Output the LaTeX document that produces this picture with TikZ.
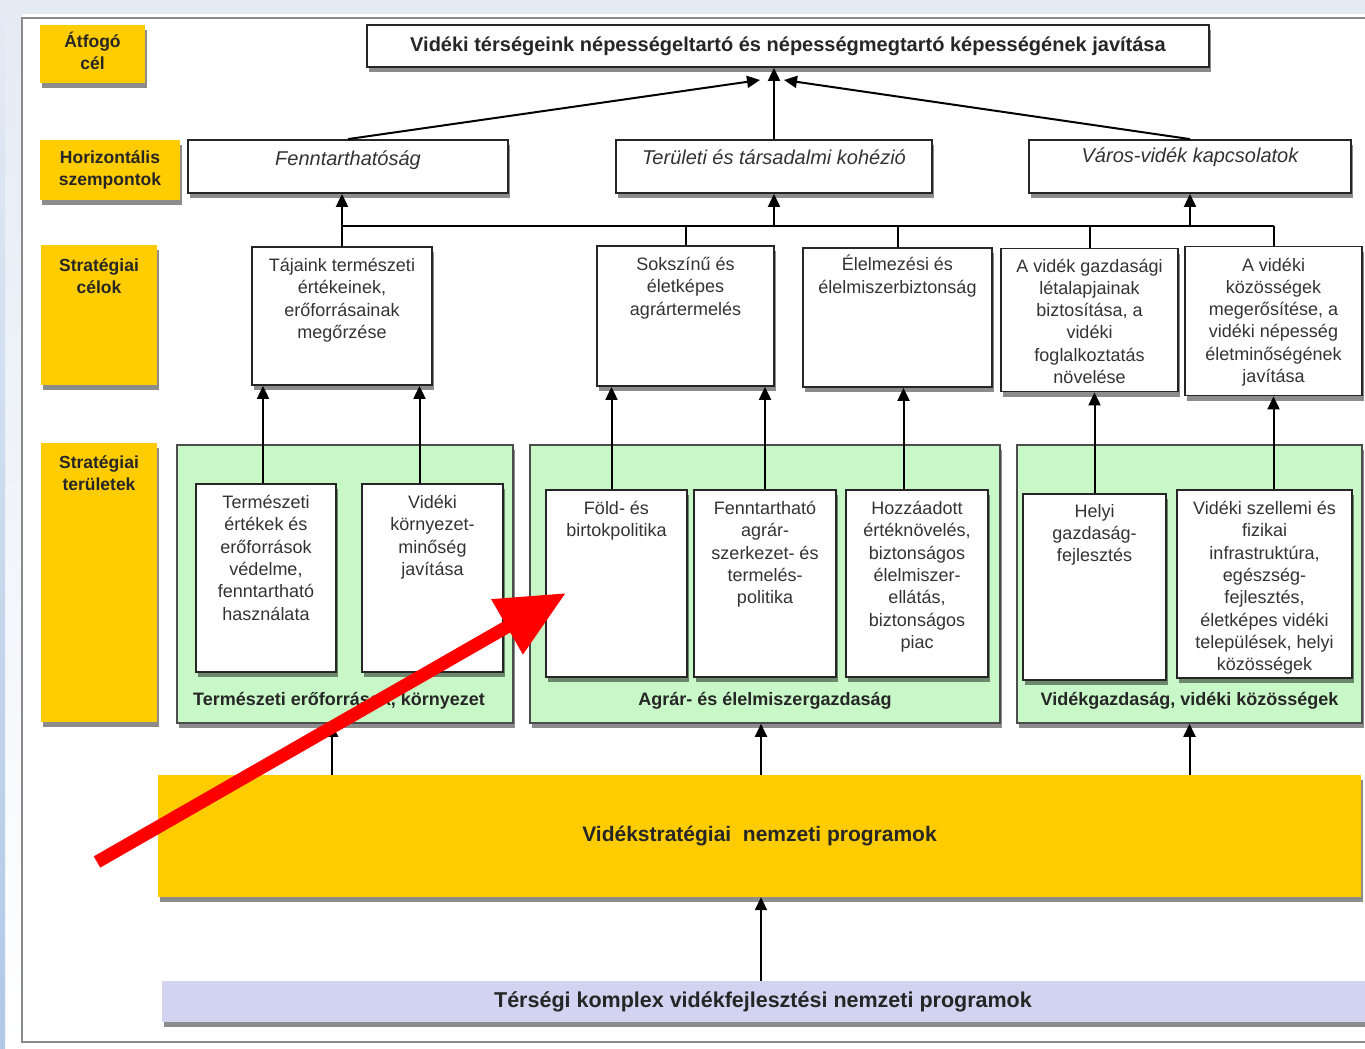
\documentclass[tikz,border=0pt]{standalone}
\usepackage{fontspec}
\setmainfont{Liberation Sans}
\usetikzlibrary{positioning,shadows,arrows.meta}

\definecolor{sarga}{HTML}{FFCC00}
\definecolor{zold}{HTML}{C8F7C8}
\definecolor{lila}{HTML}{D2D3F0}
\definecolor{hatter}{HTML}{E4EBF5}
\definecolor{kekcsik}{HTML}{B0C8E6}
\definecolor{keret}{HTML}{8A8A8A}

\begin{document}
\begin{tikzpicture}[x=1pt,y=-1pt,
	arnyek/.style={drop shadow={shadow xshift=2pt,shadow yshift=-5pt,fill=black,opacity=0.45}},
	meret/.style 2 args={minimum width=#1pt,minimum height=#2pt},
	cimke/.style={fill=sarga,arnyek,inner sep=0pt},
	cimkeszoveg/.style={font=\bfseries\fontsize{17.5}{22}\selectfont,align=center,inner sep=0pt,text=black!85},
	doboz/.style={draw=black!85,line width=1.8pt,fill=white,arnyek,inner sep=0pt},
	szoveg/.style={font=\fontsize{18}{22.3}\selectfont,align=center,inner sep=0pt,text=black!80},
	szempont/.style={font=\itshape\fontsize{20}{24}\selectfont,inner sep=0pt,text=black!80},
	terulet/.style={draw=black!70,line width=1.6pt,fill=zold,arnyek,inner sep=0pt},
	teruletnev/.style={font=\bfseries\fontsize{18}{22}\selectfont,inner sep=0pt,text=black!85},
	nyil/.style={-{Triangle[length=13pt,width=12pt]},line width=2pt},
	vonal/.style={line width=2pt}
	]
	\useasboundingbox (0,0) rectangle (1365,1049);
	
	% hatter es keret
	\fill[hatter] (0,0) rectangle (1365,14);
	\shade[top color=hatter,bottom color=white] (0,0) rectangle (22,1049);
	\shade[top color=hatter,bottom color=kekcsik] (0,0) rectangle (5,1049);
	\draw[keret,line width=1.5pt,fill=white] (22,18) rectangle (1380,1042);
	
	% bal oldali cimkek
	\node[cimke,meret={105}{58}] (atfogo) at (92.5,54) {};
	\node[cimkeszoveg,below=7pt of atfogo.north] (atfogo-t) {Átfogó\\cél};
	\node[cimke,meret={140}{60}] (horiz) at (110,170) {};
	\node[cimkeszoveg,below=11pt of horiz.north] (horiz-t) {Horizontális\\szempontok};
	\node[cimke,meret={116}{140}] (stratcel) at (99,315) {};
	\node[cimkeszoveg,below=14pt of stratcel.north] (stratcel-t) {Stratégiai\\célok};
	\node[cimke,meret={116}{279}] (stratter) at (99,582.5) {};
	\node[cimkeszoveg,below=13pt of stratter.north] (stratter-t) {Stratégiai\\területek};
	
	% atfogo cel
	\node[doboz,meret={842}{42},font=\bfseries\fontsize{20}{24}\selectfont,text=black!85] (cel) at (788,46)
		{Vidéki térségeink népességeltartó és népességmegtartó képességének javítása};
	
	% horizontalis szempontok
	\node[doboz,meret={320}{53}] (fennt) at (348,166.5) {};
	\node[szempont,below=11pt of fennt.north] (fennt-t) {Fenntarthatóság};
	\node[doboz,meret={316}{53}] (kohezio) at (774,166.5) {};
	\node[szempont,below=10pt of kohezio.north] (kohezio-t) {Területi és társadalmi kohézió};
	\node[doboz,meret={322}{53}] (varos) at (1190,166.5) {};
	\node[szempont,below=8pt of varos.north] (varos-t) {Város-vidék kapcsolatok};
	
	% strategiai celok
	\node[doboz,meret={180}{138}] (tajaink) at (342,316) {};
	\node[szoveg,below=12pt of tajaink.north] (tajaink-t) {Tájaink természeti\\értékeinek,\\erőforrásainak\\megőrzése};
	\node[doboz,meret={177}{140}] (sokszinu) at (685.5,316) {};
	\node[szoveg,below=12pt of sokszinu.north] (sokszinu-t) {Sokszínű és\\életképes\\agrártermelés};
	\node[doboz,meret={189}{139}] (elelm) at (897.5,317.5) {};
	\node[szoveg,below=8pt of elelm.north] (elelm-t) {Élelmezési és\\élelmiszerbiztonság};
	\node[doboz,meret={177}{143}] (gazdasagi) at (1089.5,320) {};
	\node[szoveg,below=11pt of gazdasagi.north] (gazdasagi-t) {A vidék gazdasági\\létalapjainak\\biztosítása, a\\vidéki\\foglalkoztatás\\növelése};
	\node[doboz,meret={177}{149}] (kozossegek) at (1273.5,321) {};
	\node[szoveg,below=12pt of kozossegek.north] (kozossegek-t) {A vidéki\\közösségek\\megerősítése, a\\vidéki népesség\\életminőségének\\javítása};
	
	% strategiai teruletek
	\node[terulet,meret={336}{278}] (zold1) at (345,584) {};
	\node[terulet,meret={470}{278}] (zold2) at (765,584) {};
	\node[terulet,meret={345}{278}] (zold3) at (1189.5,584) {};
	\node[teruletnev,anchor=base] (zold1-t) at ([xshift=-6pt,yshift=18pt]zold1.south) {Természeti erőforrások, környezet};
	\node[teruletnev,anchor=base] (zold2-t) at ([yshift=18pt]zold2.south) {Agrár- és élelmiszergazdaság};
	\node[teruletnev,anchor=base] (zold3-t) at ([yshift=18pt]zold3.south) {Vidékgazdaság, vidéki közösségek};
	
	\node[doboz,meret={140}{188}] (termert) at (266,578) {};
	\node[szoveg,below=12pt of termert.north] (termert-t) {Természeti\\értékek és\\erőforrások\\védelme,\\fenntartható\\használata};
	\node[doboz,meret={141}{188}] (kornyezet) at (432.5,578) {};
	\node[szoveg,below=12pt of kornyezet.north] (kornyezet-t) {Vidéki\\környezet-\\minőség\\javítása};
	\node[doboz,meret={141}{187}] (fold) at (616.5,583.5) {};
	\node[szoveg,below=12pt of fold.north] (fold-t) {Föld- és\\birtokpolitika};
	\node[doboz,meret={142}{187}] (agrar) at (765,583.5) {};
	\node[szoveg,below=12pt of agrar.north] (agrar-t) {Fenntartható\\agrár-\\szerkezet- és\\termelés-\\politika};
	\node[doboz,meret={142}{187}] (hozza) at (917,583.5) {};
	\node[szoveg,below=12pt of hozza.north] (hozza-t) {Hozzáadott\\értéknövelés,\\biztonságos\\élelmiszer-\\ellátás,\\biztonságos\\piac};
	\node[doboz,meret={143}{186}] (helyi) at (1094.5,587) {};
	\node[szoveg,below=11pt of helyi.north] (helyi-t) {Helyi\\gazdaság-\\fejlesztés};
	\node[doboz,meret={175}{188}] (szellemi) at (1264.5,584) {};
	\node[szoveg,below=12pt of szellemi.north] (szellemi-t) {Vidéki szellemi és\\fizikai\\infrastruktúra,\\egészség-\\fejlesztés,\\életképes vidéki\\települések, helyi\\közösségek};
	
	% programok
	\node[cimke,meret={1203}{122},font=\bfseries\fontsize{21}{25}\selectfont,text=black!85] (program) at (759.5,836)
		{Vidékstratégiai\ \ nemzeti programok};
	\node[fill=lila,arnyek,meret={1203}{41},inner sep=0pt,font=\bfseries\fontsize{21.5}{25}\selectfont,text=black!85] (tersegi) at (763,1001.5)
		{Térségi komplex vidékfejlesztési nemzeti programok};
	
	% nyilak a cel fele
	\coordinate (cel-bal) at (760,80);
	\coordinate (cel-jobb) at (784,80);
	\coordinate (sin) at (0,226);
	\draw[nyil] (fennt.north) -- (cel-bal);
	\draw[nyil] (kohezio.north) -- (kohezio.north |- cel.south);
	\draw[nyil] (varos.north) -- (cel-jobb);
	
	\draw[vonal] (tajaink.north |- sin) -- (kozossegek.north |- sin);
	\foreach \c in {tajaink,sokszinu,elelm,gazdasagi,kozossegek}
		\draw[vonal] (\c.north) -- (\c.north |- sin);
	\draw[nyil] (tajaink.north |- sin) -- (tajaink.north |- fennt.south);
	\draw[nyil] (kohezio.south |- sin) -- (kohezio.south);
	\draw[nyil] (varos.south |- sin) -- (varos.south);
	
	\draw[nyil] ([xshift=-3pt]termert.north) -- ([xshift=-3pt]termert.north |- tajaink.south);
	\draw[nyil] ([xshift=-13pt]kornyezet.north) -- ([xshift=-13pt]kornyezet.north |- tajaink.south);
	\draw[nyil] ([xshift=-5pt]fold.north) -- ([xshift=-5pt]fold.north |- sokszinu.south);
	\draw[nyil] (agrar.north) -- (agrar.north |- sokszinu.south);
	\draw[nyil] ([xshift=6pt]elelm.south |- hozza.north) -- ([xshift=6pt]elelm.south);
	\draw[nyil] (helyi.north) -- (helyi.north |- gazdasagi.south);
	\draw[nyil] (kozossegek.south |- szellemi.north) -- (kozossegek.south);
	
	\draw[nyil] ([xshift=-13pt]zold1.south |- program.north) -- ([xshift=-13pt]zold1.south);
	\draw[nyil] ([xshift=-4pt]zold2.south |- program.north) -- ([xshift=-4pt]zold2.south);
	\draw[nyil] (zold3.south |- program.north) -- (zold3.south);
	\draw[nyil] ([xshift=-2pt]tersegi.north) -- ([xshift=-2pt]tersegi.north |- program.south);
	
	% piros nyil
	\coordinate (piros-eleje) at (97,862);
	\coordinate (piros-vege) at (566,593);
	\draw[red,line width=13pt,-{Triangle[length=68pt,width=60pt]}] (piros-eleje) -- (piros-vege);
	
\end{tikzpicture}
\end{document}
